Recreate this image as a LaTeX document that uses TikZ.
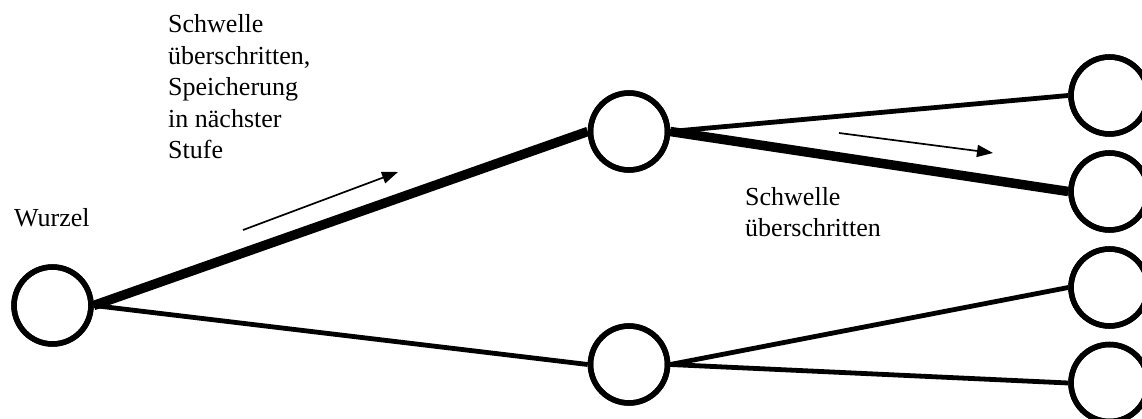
\documentclass[tikz,border=0pt]{standalone}
\usepackage{fontspec}
\setmainfont{Liberation Serif}
\usetikzlibrary{arrows.meta}

\begin{document}
\begin{tikzpicture}[x=1pt,y=-1pt,
  knot/.style={circle,draw,line width=5.5pt,minimum size=77pt,inner sep=0pt,fill=white},
  thinedge/.style={line width=4.8pt},
  thickedge/.style={line width=9.5pt},
  hint/.style={line width=1.7pt,-{Triangle[length=16pt,width=12pt]}},
  label/.style={inner sep=0pt,anchor=base west,align=left,
    font=\fontsize{26pt}{31.5pt}\selectfont}]
  \useasboundingbox (0,0) rectangle (1142,419);

  % tree levels
  \node[knot] (root) at (52.5,305.5) {};
  \node[knot] (m1) at (629,131.5) {};
  \node[knot] (m2) at (629,364.5) {};
  \node[knot] (r1) at (1109.5,95.5) {};
  \node[knot] (r2) at (1109.5,191.5) {};
  \node[knot] (r3) at (1109.5,287.5) {};
  \node[knot] (r4) at (1109.5,383) {};

  % edges, the heavier ones mark the overflow path
  \draw[thickedge] (root.east) -- (m1.west);
  \draw[thinedge] (root.east) -- (m2.west);
  \draw[thinedge] (m1.east) -- (r1.west);
  \draw[thickedge] (m1.east) -- (r2.west);
  \draw[thinedge] (m2.east) -- (r3.west);
  \draw[thinedge] (m2.east) -- (r4.west);

  % redraw the rings above the edge ends
  \foreach \n in {root,m1,m2,r1,r2,r3,r4}
    \draw[line width=5.5pt] (\n) circle (38.5pt);

  % direction hints
  \coordinate (a1s) at (243,230);
  \coordinate (a1e) at (398,172);
  \coordinate (a2s) at (839,133);
  \coordinate (a2e) at (993,153);
  \draw[hint] (a1s) -- (a1e);
  \draw[hint] (a2s) -- (a2e);

  % labels (anchored at the baseline of their last line)
  \node[label] (wurzel) at (14,227) {Wurzel};
  \node[label] (t1) at (168,159) {Schwelle\\überschritten,\\Speicherung\\in nächster\\Stufe};
  \node[label] (t2) at (745,237) {Schwelle\\überschritten};
\end{tikzpicture}
\end{document}
